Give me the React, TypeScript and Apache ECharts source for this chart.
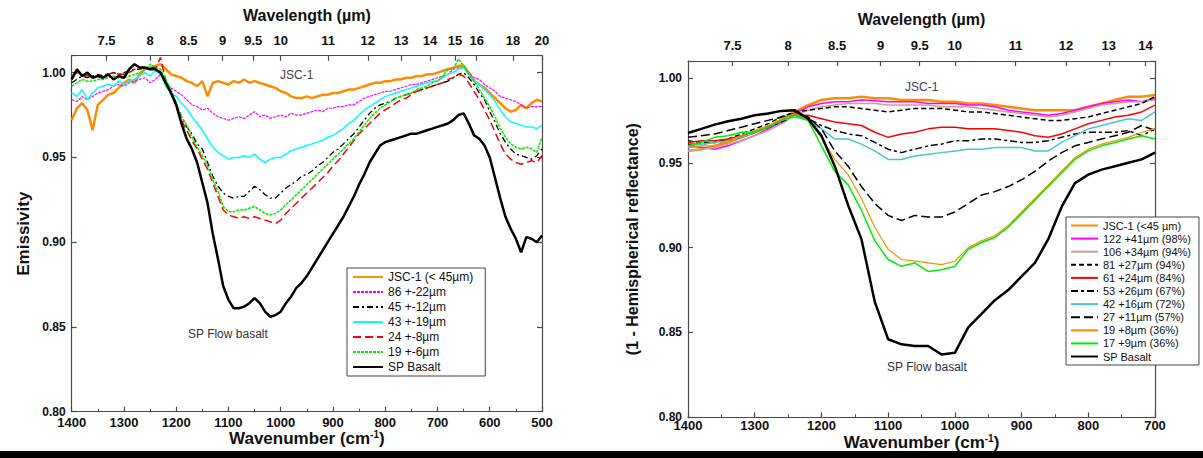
import React, { useEffect, useRef } from "react";
import * as echarts from "echarts";

// ---------- sampling grids (wavenumber, cm-1) ----------
const wnLeft: number[] = Array.from({ length: 91 }, (_, i) => 1400 - i * 10);
const wnRight: number[] = Array.from({ length: 36 }, (_, i) => 1400 - i * 20);

// ---------- tick labels ----------
const wlTicksLeft = [7.5, 8, 8.5, 9, 9.5, 10, 11, 12, 13, 14, 15, 16, 18, 20];
const wlTicksRight = [7.5, 8, 8.5, 9, 9.5, 10, 11, 12, 13, 14];

// ---------- left panel: emissivity ----------
const leftNames = ["JSC-1 (< 45µm)", "86 +-22µm", "45 +-12µm", "43 +-19µm", "24 +-8µm", "19 +-6µm", "SP Basalt"];

const L_jsc1 = [
  0.972, 0.979, 0.982, 0.978, 0.966, 0.981, 0.984, 0.987, 0.988, 0.991,
  0.994, 0.996, 0.994, 0.999, 1.002, 1.003, 1.004, 1.005, 1.002, 0.999,
  0.998, 0.997, 0.995, 0.994, 0.992, 0.995, 0.986, 0.994, 0.995, 0.994,
  0.993, 0.995, 0.994, 0.996, 0.994, 0.995, 0.994, 0.993, 0.992, 0.991,
  0.989, 0.988, 0.986, 0.985, 0.985, 0.986, 0.985, 0.986, 0.987, 0.987,
  0.988, 0.988, 0.989, 0.990, 0.990, 0.991, 0.992, 0.993, 0.994, 0.994,
  0.995, 0.995, 0.996, 0.996, 0.997, 0.997, 0.998, 0.998, 0.999, 0.999,
  1.000, 1.001, 1.002, 1.003, 1.004, 1.004, 1.000, 0.995, 0.993, 0.991,
  0.988, 0.985, 0.982, 0.979, 0.977, 0.978, 0.981, 0.979, 0.982, 0.984,
  0.983,
];
const L_86 = [
  0.984, 0.983, 0.986, 0.984, 0.986, 0.988, 0.989, 0.990, 0.992, 0.993,
  0.992, 0.994, 0.995, 0.996, 0.997, 0.994, 0.996, 0.999, 0.994, 0.991,
  0.989, 0.987, 0.984, 0.981, 0.980, 0.978, 0.979, 0.976, 0.974, 0.973,
  0.972, 0.973, 0.974, 0.973, 0.975, 0.977, 0.974, 0.975, 0.973, 0.974,
  0.975, 0.974, 0.976, 0.975, 0.975, 0.976, 0.977, 0.978, 0.977, 0.979,
  0.979, 0.980, 0.980, 0.981, 0.981, 0.983, 0.985, 0.986, 0.987, 0.988,
  0.989, 0.989, 0.990, 0.991, 0.992, 0.993, 0.993, 0.994, 0.995, 0.996,
  0.997, 0.998, 0.999, 1.002, 1.003, 1.003, 1.000, 0.997, 0.996, 0.993,
  0.991, 0.989, 0.986, 0.985, 0.984, 0.983, 0.981, 0.979, 0.980, 0.980,
  0.980,
];
const L_45 = [
  0.994, 0.996, 0.998, 0.997, 0.998, 0.999, 0.998, 0.999, 1.000, 0.999,
  1.000, 1.001, 1.002, 1.002, 1.003, 1.003, 1.003, 1.000, 0.994, 0.989,
  0.982, 0.974, 0.968, 0.964, 0.958, 0.955, 0.947, 0.939, 0.933, 0.929,
  0.927, 0.926, 0.927, 0.927, 0.930, 0.933, 0.931, 0.928, 0.926, 0.926,
  0.929, 0.932, 0.934, 0.936, 0.939, 0.940, 0.942, 0.945, 0.947, 0.950,
  0.953, 0.955, 0.958, 0.961, 0.964, 0.968, 0.972, 0.976, 0.979, 0.981,
  0.982, 0.983, 0.985, 0.986, 0.987, 0.988, 0.989, 0.990, 0.991, 0.992,
  0.993, 0.994, 0.995, 0.997, 0.999, 1.000, 0.997, 0.993, 0.988, 0.984,
  0.977, 0.971, 0.964, 0.959, 0.955, 0.952, 0.951, 0.950, 0.949, 0.951,
  0.955,
];
const L_43 = [
  0.988, 0.986, 0.990, 0.984, 0.988, 0.991, 0.992, 0.993, 0.992, 0.995,
  0.993, 0.995, 0.996, 0.998, 1.000, 0.998, 1.001, 0.999, 0.992, 0.988,
  0.986, 0.982, 0.979, 0.974, 0.970, 0.966, 0.961, 0.956, 0.953, 0.951,
  0.949, 0.950, 0.950, 0.951, 0.950, 0.952, 0.949, 0.947, 0.949, 0.950,
  0.950, 0.952, 0.954, 0.955, 0.956, 0.957, 0.958, 0.959, 0.960, 0.962,
  0.963, 0.965, 0.967, 0.970, 0.972, 0.975, 0.978, 0.980, 0.982, 0.984,
  0.986, 0.987, 0.988, 0.989, 0.990, 0.991, 0.992, 0.993, 0.994, 0.995,
  0.995, 0.997, 0.999, 1.000, 1.002, 1.003, 0.999, 0.995, 0.993, 0.990,
  0.987, 0.983, 0.978, 0.974, 0.971, 0.970, 0.969, 0.968, 0.968, 0.967,
  0.969,
];
const L_24 = [
  0.998, 1.000, 0.999, 0.998, 0.997, 0.998, 0.999, 0.999, 1.000, 0.999,
  0.999, 1.000, 1.002, 1.002, 1.003, 1.003, 1.002, 1.009, 0.995, 0.988,
  0.980, 0.972, 0.966, 0.960, 0.955, 0.949, 0.943, 0.935, 0.927, 0.919,
  0.916, 0.915, 0.914, 0.915, 0.914, 0.915, 0.914, 0.913, 0.912, 0.911,
  0.913, 0.917, 0.920, 0.923, 0.926, 0.929, 0.932, 0.935, 0.938, 0.941,
  0.945, 0.948, 0.952, 0.956, 0.960, 0.964, 0.967, 0.970, 0.973, 0.976,
  0.978, 0.980, 0.982, 0.984, 0.985, 0.987, 0.989, 0.990, 0.991, 0.992,
  0.993, 0.994, 0.996, 0.997, 0.999, 0.998, 0.994, 0.989, 0.984, 0.978,
  0.972, 0.965, 0.958, 0.952, 0.949, 0.947, 0.946, 0.947, 0.948, 0.947,
  0.951,
];
const L_19 = [
  0.992, 0.994, 0.996, 0.995, 0.995, 0.996, 0.996, 0.997, 0.998, 0.997,
  0.997, 0.998, 0.999, 1.000, 1.002, 1.005, 1.003, 1.002, 0.996, 0.990,
  0.982, 0.974, 0.969, 0.962, 0.956, 0.951, 0.945, 0.937, 0.930, 0.921,
  0.918, 0.918, 0.919, 0.919, 0.920, 0.921, 0.919, 0.917, 0.916, 0.917,
  0.919, 0.922, 0.925, 0.928, 0.931, 0.934, 0.937, 0.940, 0.943, 0.946,
  0.949, 0.952, 0.955, 0.958, 0.961, 0.965, 0.969, 0.973, 0.976, 0.979,
  0.981, 0.983, 0.985, 0.986, 0.987, 0.988, 0.990, 0.991, 0.992, 0.994,
  0.995, 0.998, 1.002, 1.002, 1.008, 1.004, 0.999, 0.995, 0.990, 0.985,
  0.980, 0.974, 0.967, 0.962, 0.958, 0.956, 0.955, 0.956, 0.955, 0.953,
  0.962,
];
const L_sp = [
  0.996, 1.002, 0.998, 1.000, 0.997, 0.998, 0.997, 0.999, 0.996, 0.998,
  0.997, 1.002, 1.005, 1.003, 1.003, 1.002, 1.002, 1.000, 0.994, 0.988,
  0.981, 0.970, 0.961, 0.955, 0.947, 0.935, 0.923, 0.905, 0.890, 0.874,
  0.866, 0.861, 0.861, 0.862, 0.864, 0.867, 0.864, 0.859, 0.856, 0.857,
  0.859, 0.864, 0.868, 0.873, 0.876, 0.880, 0.885, 0.890, 0.895, 0.900,
  0.905, 0.910, 0.915, 0.921, 0.927, 0.934, 0.940, 0.947, 0.952, 0.957,
  0.959, 0.960, 0.961, 0.962, 0.963, 0.964, 0.964, 0.965, 0.966, 0.967,
  0.968, 0.969, 0.970, 0.972, 0.975, 0.976, 0.970, 0.963, 0.961, 0.957,
  0.950, 0.938, 0.926, 0.915, 0.908, 0.902, 0.894, 0.903, 0.902, 0.900,
  0.904,
];

// ---------- right panel: 1 - hemispherical reflectance ----------
const rightNames = [
  "JSC-1 (<45 µm)", "122 +41µm (98%)", "106 +34µm (94%)", "81 +27µm (94%)", "61 +24µm (84%)",
  "53 +26µm (67%)", "42 +16µm (72%)", "27 +11µm (57%)", "19 +8µm (36%)", "17 +9µm (36%)", "SP Basalt",
];
const R_jsc1 = [
  0.957, 0.958, 0.960, 0.962, 0.965, 0.968, 0.971, 0.975, 0.980, 0.984,
  0.987, 0.988, 0.988, 0.989, 0.988, 0.988, 0.987, 0.987, 0.987, 0.986,
  0.986, 0.985, 0.985, 0.984, 0.983, 0.982, 0.981, 0.981, 0.981, 0.981,
  0.983, 0.985, 0.987, 0.989, 0.989, 0.990,
];
const R_122 = [
  0.960, 0.959, 0.958, 0.960, 0.963, 0.966, 0.970, 0.974, 0.979, 0.983,
  0.985, 0.986, 0.986, 0.987, 0.9865, 0.986, 0.986, 0.986, 0.985, 0.985,
  0.985, 0.984, 0.984, 0.983, 0.981, 0.980, 0.979, 0.978, 0.979, 0.981,
  0.983, 0.985, 0.986, 0.987, 0.986, 0.988,
];
const R_106 = [
  0.957, 0.958, 0.959, 0.961, 0.963, 0.966, 0.969, 0.973, 0.978, 0.981,
  0.983, 0.984, 0.985, 0.985, 0.985, 0.984, 0.984, 0.984, 0.984, 0.983,
  0.983, 0.983, 0.982, 0.981, 0.980, 0.979, 0.978, 0.977, 0.978, 0.980,
  0.982, 0.984, 0.985, 0.986, 0.986, 0.987,
];
const R_81 = [
  0.963, 0.962, 0.962, 0.964, 0.967, 0.970, 0.973, 0.977, 0.980, 0.981,
  0.982, 0.983, 0.983, 0.982, 0.981, 0.980, 0.981, 0.982, 0.982, 0.982,
  0.981, 0.980, 0.980, 0.979, 0.978, 0.977, 0.976, 0.975, 0.975, 0.976,
  0.977, 0.979, 0.981, 0.983, 0.985, 0.989,
];
const R_61 = [
  0.962, 0.963, 0.963, 0.964, 0.966, 0.968, 0.971, 0.975, 0.978, 0.978,
  0.976, 0.974, 0.973, 0.972, 0.968, 0.965, 0.967, 0.968, 0.970, 0.971,
  0.971, 0.970, 0.970, 0.970, 0.969, 0.968, 0.966, 0.965, 0.967, 0.970,
  0.973, 0.975, 0.977, 0.978, 0.980, 0.984,
];
const R_53 = [
  0.961, 0.961, 0.962, 0.963, 0.965, 0.968, 0.971, 0.974, 0.978, 0.976,
  0.972, 0.969, 0.967, 0.966, 0.962, 0.958, 0.956, 0.958, 0.960, 0.961,
  0.963, 0.963, 0.964, 0.964, 0.963, 0.962, 0.962, 0.963, 0.965, 0.967,
  0.968, 0.968, 0.968, 0.969, 0.966, 0.970,
];
const R_42 = [
  0.960, 0.961, 0.962, 0.963, 0.965, 0.968, 0.971, 0.975, 0.977, 0.975,
  0.970, 0.964, 0.964, 0.961, 0.957, 0.952, 0.952, 0.954, 0.955, 0.956,
  0.957, 0.958, 0.958, 0.959, 0.959, 0.959, 0.957, 0.957, 0.962, 0.966,
  0.970, 0.972, 0.974, 0.976, 0.975, 0.980,
];
const R_27 = [
  0.965, 0.966, 0.967, 0.969, 0.971, 0.973, 0.975, 0.977, 0.979, 0.977,
  0.970, 0.957, 0.948, 0.936, 0.926, 0.919, 0.916, 0.919, 0.918, 0.918,
  0.921, 0.926, 0.931, 0.933, 0.936, 0.940, 0.945, 0.951, 0.956, 0.960,
  0.962, 0.964, 0.966, 0.968, 0.972, 0.969,
];
const R_19 = [
  0.959, 0.960, 0.960, 0.963, 0.966, 0.969, 0.972, 0.976, 0.979, 0.975,
  0.965, 0.952, 0.943, 0.929, 0.912, 0.899, 0.893, 0.892, 0.891, 0.890,
  0.892, 0.900, 0.904, 0.907, 0.913, 0.921, 0.929, 0.937, 0.945, 0.953,
  0.958, 0.961, 0.963, 0.965, 0.968, 0.970,
];
const R_17 = [
  0.960, 0.962, 0.965, 0.966, 0.968, 0.968, 0.971, 0.975, 0.978, 0.975,
  0.960, 0.945, 0.937, 0.922, 0.904, 0.893, 0.889, 0.891, 0.886, 0.887,
  0.889, 0.899, 0.903, 0.906, 0.912, 0.920, 0.928, 0.936, 0.944, 0.952,
  0.957, 0.960, 0.962, 0.964, 0.966, 0.964,
];
const R_sp = [
  0.9676, 0.970, 0.9725, 0.9745, 0.976, 0.978, 0.979, 0.9806, 0.981, 0.976,
  0.966, 0.948, 0.925, 0.905, 0.868, 0.846, 0.843, 0.842, 0.842, 0.837,
  0.838, 0.853, 0.861, 0.869, 0.875, 0.883, 0.891, 0.905, 0.924, 0.938,
  0.943, 0.946, 0.948, 0.950, 0.952, 0.956,
];

const FONT = '"Liberation Sans", Arial, Helvetica, sans-serif';
const AX = "#4a4a4a";
const TXT = "#111";

function bottomX(gridIndex: number, min: number, gap: number, labelMargin: number) {
  return {
    type: "value", gridIndex, position: "bottom", min, max: 1400, interval: 100, inverse: true,
    name: "Wavenumber (cm{sup|-1})", nameLocation: "middle", nameGap: gap, nameMoveOverlap: false,
    nameTextStyle: {
      fontFamily: FONT, fontSize: 17, fontWeight: "bold", color: TXT, lineHeight: 18,
      rich: { sup: { fontFamily: FONT, fontSize: 10, fontWeight: "bold", color: TXT, verticalAlign: "top", lineHeight: 10 } },
    },
    axisLine: { show: true, onZero: false, lineStyle: { color: AX, width: 1.2 } },
    axisTick: { show: true, inside: true, length: 5, lineStyle: { color: AX, width: 1.2 } },
    minorTick: { show: true, splitNumber: 2, length: 3, lineStyle: { color: AX } },
    axisLabel: {
      fontFamily: FONT, fontSize: 13, fontWeight: "bold", color: TXT, margin: labelMargin,
      formatter: (v: number) => String(Math.round(v)),
    },
    splitLine: { show: false },
    minorSplitLine: { show: false },
  };
}

function topX(gridIndex: number, min: number, wl: number[], gap: number, margin: number) {
  const vals = wl.map((w) => 10000 / w);
  return {
    type: "value", gridIndex, position: "top", min, max: 1400, inverse: true,
    name: "Wavelength (µm)", nameLocation: "middle", nameGap: gap, nameMoveOverlap: false,
    nameTextStyle: { fontFamily: FONT, fontSize: 16, fontWeight: "bold", color: TXT },
    axisLine: { show: true, onZero: false, lineStyle: { color: AX, width: 1.2 } },
    axisTick: { show: true, inside: true, length: 5, customValues: vals, lineStyle: { color: AX, width: 1.2 } },
    axisLabel: {
      customValues: vals, margin,
      fontFamily: FONT, fontSize: 13, fontWeight: "bold", color: TXT,
      formatter: (v: number) => {
        const w = wl.find((x) => Math.abs(10000 / x - v) < 0.5);
        return w === undefined ? "" : String(w);
      },
    },
    splitLine: { show: false },
  };
}

function leftY(gridIndex: number, name: string, gap: number, size: number) {
  return {
    type: "value", gridIndex, position: "left", min: 0.8, max: 1.01, interval: 0.05,
    name, nameLocation: "middle", nameGap: gap, nameMoveOverlap: false,
    nameTextStyle: { fontFamily: FONT, fontSize: size, fontWeight: "bold", color: TXT },
    axisLine: { show: true, onZero: false, lineStyle: { color: AX, width: 1.2 } },
    axisTick: { show: true, inside: true, length: 5, lineStyle: { color: AX, width: 1.2 } },
    axisLabel: {
      fontFamily: FONT, fontSize: 12, fontWeight: "bold", color: TXT, margin: 6,
      formatter: (v: number) => (v > 1.005 ? "" : v.toFixed(2)),
    },
    splitLine: { show: false },
  };
}

function rightY(gridIndex: number) {
  return {
    type: "value", gridIndex, position: "right", min: 0.8, max: 1.01, interval: 0.05,
    axisLine: { show: true, onZero: false, lineStyle: { color: AX, width: 1.2 } },
    axisTick: { show: true, inside: true, length: 5, lineStyle: { color: AX, width: 1.2 } },
    axisLabel: { show: false },
    splitLine: { show: false },
  };
}

function line(name: string, xs: number[], ys: number[], color: string, width: number, type: any, xi: number, yi: number) {
  return {
    type: "line", name, xAxisIndex: xi, yAxisIndex: yi,
    data: xs.map((x, i) => [x, ys[i]]),
    symbol: "none", showSymbol: false, smooth: false,
    lineStyle: { color, width, type },
    itemStyle: { color },
    emphasis: { disabled: true },
  };
}

const legendBase = {
  orient: "vertical",
  borderColor: "#444", borderWidth: 1, backgroundColor: "#ffffff",
  selectedMode: false,
  itemStyle: { color: "rgba(0,0,0,0)", borderColor: "rgba(0,0,0,0)", borderWidth: 0, opacity: 0 },
};

export default function App() {
  const ref = useRef<HTMLDivElement>(null);
  useEffect(() => {
    if (!ref.current) return;
    const chart = echarts.init(ref.current, undefined, { renderer: "svg" });
    const series = [
      line(leftNames[0], wnLeft, L_jsc1, "#ff8c00", 2.5, "solid", 0, 0),
      line(leftNames[1], wnLeft, L_86, "#ff00ff", 1.2, [3, 1], 0, 0),
      line(leftNames[2], wnLeft, L_45, "#000000", 1.3, [6, 3, 2, 3], 0, 0),
      line(leftNames[3], wnLeft, L_43, "#00ffff", 1.5, "solid", 0, 0),
      line(leftNames[4], wnLeft, L_24, "#ff0000", 1.5, [8, 4], 0, 0),
      line(leftNames[5], wnLeft, L_19, "#00ee00", 1.5, [3, 1], 0, 0),
      line(leftNames[6], wnLeft, L_sp, "#000000", 2.5, "solid", 0, 0),

      line(rightNames[0], wnRight, R_jsc1, "#ff8c00", 2.5, "solid", 2, 2),
      line(rightNames[1], wnRight, R_122, "#ff00ff", 1.5, "solid", 2, 2),
      line(rightNames[2], wnRight, R_106, "#d09c9c", 1.5, "solid", 2, 2),
      line(rightNames[3], wnRight, R_81, "#000000", 1.5, [5, 3], 2, 2),
      line(rightNames[4], wnRight, R_61, "#ff0000", 1.5, "solid", 2, 2),
      line(rightNames[5], wnRight, R_53, "#000000", 1.5, [7, 3, 3, 3], 2, 2),
      line(rightNames[6], wnRight, R_42, "#48c8c8", 1.5, "solid", 2, 2),
      line(rightNames[7], wnRight, R_27, "#000000", 1.5, [9, 4], 2, 2),
      line(rightNames[8], wnRight, R_19, "#ff8c00", 1.2, "solid", 2, 2),
      line(rightNames[9], wnRight, R_17, "#00ee00", 1.5, "solid", 2, 2),
      line(rightNames[10], wnRight, R_sp, "#000000", 2.5, "solid", 2, 2),
    ];
    chart.setOption({
      animation: false,
      backgroundColor: "#ffffff",
      textStyle: { fontFamily: FONT },
      grid: [
        { left: 71.7, top: 55.7, width: 470.3, height: 356, outerBoundsMode: "none", containLabel: false },
        { left: 688, top: 61, width: 467, height: 356.3, outerBoundsMode: "none", containLabel: false },
      ],
      xAxis: [
        bottomX(0, 500, 18, 4),
        topX(0, 500, wlTicksLeft, 32, 9),
        bottomX(1, 700, 16, 2),
        topX(1, 700, wlTicksRight, 34, 9),
      ],
      yAxis: [
        leftY(0, "Emissivity", 40, 17),
        rightY(0),
        leftY(1, "(1 - Hemispherical reflectance)", 48, 16),
        rightY(1),
      ],
      legend: [
        {
          ...legendBase,
          data: leftNames, left: 347, top: 268,
          itemWidth: 30, itemHeight: 10, itemGap: 3, padding: [3, 12, 3, 5],
          textStyle: { fontFamily: FONT, fontSize: 12, color: TXT },
        },
        {
          ...legendBase,
          data: rightNames, left: 1066, top: 217,
          itemWidth: 27, itemHeight: 8, itemGap: 2.1, padding: [3, 8, 3, 4],
          textStyle: { fontFamily: FONT, fontSize: 11, color: TXT },
        },
      ],
      graphic: [
        { type: "text", left: 280, top: 69, style: { text: "JSC-1", font: `12px ${FONT}`, fill: "#444" } },
        { type: "text", left: 188, top: 328, style: { text: "SP Flow basalt", font: `12px ${FONT}`, fill: "#333" } },
        { type: "text", left: 905, top: 81, style: { text: "JSC-1", font: `12px ${FONT}`, fill: "#444" } },
        { type: "text", left: 887, top: 361, style: { text: "SP Flow basalt", font: `12px ${FONT}`, fill: "#333" } },
        { type: "rect", left: 0, top: 451, shape: { width: 1203, height: 7 }, style: { fill: "#000" }, z: 100 },
      ],
      series,
    });
    return () => chart.dispose();
  }, []);
  return (
    <div
      ref={ref}
      style={{ position: "absolute", left: 0, top: 0, width: 1203, height: 458, background: "#fff" }}
    />
  );
}
